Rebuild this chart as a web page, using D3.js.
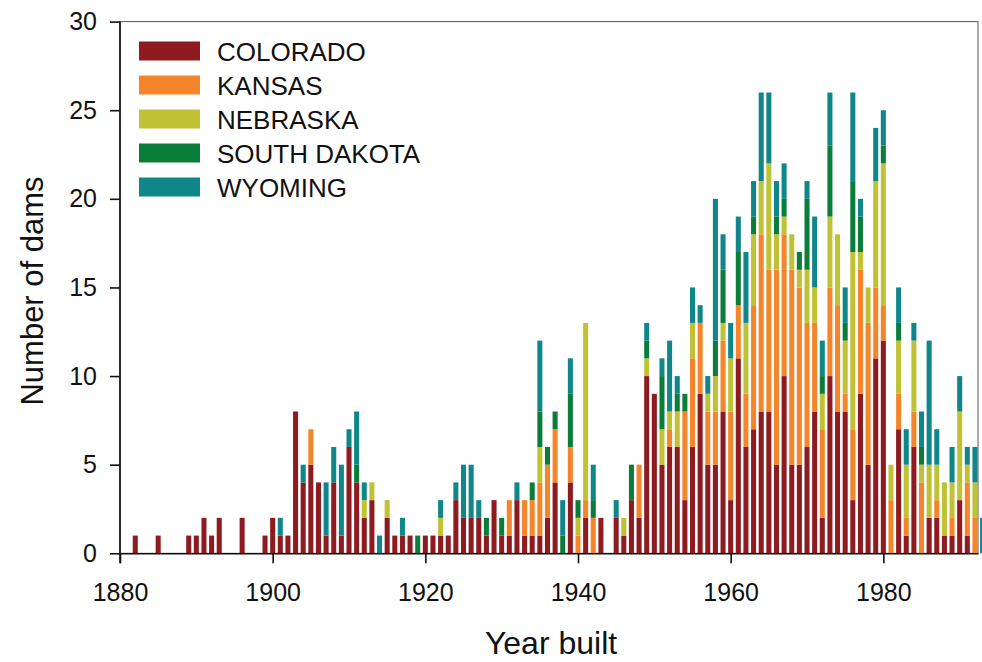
<!DOCTYPE html>
<html>
<head>
<meta charset="utf-8">
<script src="https://cdn.jsdelivr.net/npm/d3@7"></script>
<style>
  body { margin: 0; background: #fff; }
  text { font-family: "Liberation Sans", Arial, sans-serif; }
</style>
</head>
<body>
<script>
var width = 982,
    height = 662;

// dams built per year, 1880 - 1993
var years = d3.range(1880, 1994);

var colorado = [
    0,0,1,0,0,1,0,0,0,1,
    1,2,1,2,0,0,2,0,0,1,
    2,1,1,8,4,5,4,1,4,1,
    6,4,2,3,0,2,1,1,1,0,
    1,1,1,1,3,2,2,2,1,3,
    1,1,3,1,1,1,2,4,0,4,
    0,2,0,2,0,2,1,3,2,10,
    9,5,6,6,3,6,9,5,5,8,
    3,11,6,7,8,8,5,10,5,5,
    6,8,2,10,8,8,3,9,5,11,
    12,0,7,1,6,0,2,2,1,1,
    3,1,0,0];

var kansas = [
    0,0,0,0,0,0,0,0,0,0,
    0,0,0,0,0,0,0,0,0,0,
    0,0,0,0,0,2,0,0,0,0,
    0,0,0,0,0,0,0,0,0,0,
    0,0,0,0,0,0,0,0,0,0,
    0,2,0,2,2,3,3,3,0,2,
    1,1,2,0,0,0,0,0,3,0,
    0,0,1,0,5,5,4,3,3,4,
    5,3,3,7,10,8,11,8,11,10,
    7,5,5,5,6,1,4,7,8,4,
    2,3,2,1,2,4,0,1,0,1,
    0,3,2,0];

var nebraska = [
    0,0,0,0,0,0,0,0,0,0,
    0,0,0,0,0,0,0,0,0,0,
    0,0,0,0,0,0,0,0,0,0,
    0,0,1,1,0,1,0,0,0,0,
    0,0,1,0,0,0,0,0,0,0,
    0,0,0,0,0,2,0,0,0,0,
    1,10,0,0,0,0,1,0,0,1,
    0,2,1,2,0,2,0,1,2,1,
    3,0,4,4,3,6,2,1,2,1,
    3,2,2,4,4,3,10,1,2,6,
    8,2,3,3,4,1,3,2,3,2,
    5,1,2,0];

var southDakota = [
    0,0,0,0,0,0,0,0,0,0,
    0,0,0,0,0,0,0,0,0,0,
    0,0,0,0,0,0,0,0,0,0,
    0,1,0,0,0,0,0,0,0,1,
    0,0,0,0,0,0,0,0,1,0,
    1,0,0,0,1,2,1,1,1,3,
    1,0,1,0,0,0,0,2,0,1,
    0,3,0,1,1,0,0,0,2,3,
    0,3,0,1,0,0,1,1,0,1,
    4,0,1,4,0,1,4,2,0,0,
    1,0,1,0,0,1,0,0,0,0,
    0,0,0,0];

var wyoming = [
    0,0,0,0,0,0,0,0,0,0,
    0,0,0,0,0,0,0,0,0,0,
    0,1,0,0,1,0,0,3,2,4,
    1,3,1,0,1,0,0,1,0,0,
    0,0,1,0,1,3,3,1,0,0,
    0,0,1,0,0,4,0,0,2,2,
    0,0,2,0,0,1,0,0,0,1,
    0,1,4,1,0,2,1,1,8,2,
    2,2,4,2,5,4,2,2,0,0,
    1,4,2,3,0,2,5,1,0,3,
    2,0,2,2,1,2,7,2,0,2,
    2,1,2,2];

var states = ['COLORADO', 'KANSAS', 'NEBRASKA', 'SOUTH DAKOTA', 'WYOMING'];
var series = [colorado, kansas, nebraska, southDakota, wyoming];
var colors = ['#8e1b1f', '#f5852a', '#c0c235', '#0b7d3a', '#0f878a'];

var xTicks = [1880, 1900, 1920, 1940, 1960, 1980];
var yTicks = [0, 5, 10, 15, 20, 25, 30];

var svg = d3.select('body').append('svg')
    .attr('width', width)
    .attr('height', height);

var x = d3.scaleLinear().domain([1880, 1992.4]).range([120, 978]);
var y = d3.scaleLinear().domain([0, 30]).range([553.3, 21.6]);
var barW = (x(1881) - x(1880)) * 0.66;

// table for d3.stack
var table = years.map(function (yr, i) {
    var row = {year: yr};
    states.forEach(function (s, k) { row[s] = series[k][i]; });
    return row;
});

var stacked = d3.stack().keys(states)(table);

// frame
svg.append('rect')
    .attr('x', x(1880))
    .attr('y', y(30))
    .attr('width', x(1992.4) - x(1880))
    .attr('height', y(0) - y(30))
    .attr('fill', 'none')
    .attr('stroke', '#555')
    .attr('stroke-width', 1);

var layers = svg.append('g').selectAll('g')
    .data(stacked)
    .enter().append('g')
    .attr('fill', function (d, i) { return colors[i]; });

layers.selectAll('rect')
    .data(function (d) { return d.filter(function (p) { return p[1] > p[0]; }); })
    .enter().append('rect')
    .attr('x', function (p) { return x(p.data.year) - barW / 2; })
    .attr('y', function (p) { return y(p[1]); })
    .attr('width', barW)
    .attr('height', function (p) { return y(p[0]) - y(p[1]); });

// axes
var xAxis = svg.append('g')
    .attr('transform', 'translate(0,' + y(0) + ')')
    .call(d3.axisBottom(x).tickValues(xTicks).tickFormat(d3.format('d'))
        .tickSize(10).tickPadding(20).tickSizeOuter(0));

var yAxis = svg.append('g')
    .attr('transform', 'translate(' + x(1880) + ',0)')
    .call(d3.axisLeft(y).tickValues(yTicks).tickSize(10).tickPadding(13).tickSizeOuter(0));

[xAxis, yAxis].forEach(function (ax) {
    ax.select('.domain').attr('stroke', '#111').attr('stroke-width', 1.6);
    ax.selectAll('.tick line').attr('stroke', '#111').attr('stroke-width', 1.6);
    ax.selectAll('.tick text')
        .attr('fill', '#111')
        .style('font-family', '"Liberation Sans", Arial, sans-serif')
        .style('font-size', '25px');
});

// y axis line reaches down to tick end
yAxis.select('.domain').attr('d', 'M0,' + y(30) + 'V' + (y(0) + 10));

// titles
svg.append('text')
    .attr('x', 551)
    .attr('y', 654)
    .attr('text-anchor', 'middle')
    .attr('fill', '#111')
    .style('font-size', '32px')
    .text('Year built');

svg.append('text')
    .attr('transform', 'translate(43,291) rotate(-90)')
    .attr('text-anchor', 'middle')
    .attr('fill', '#111')
    .style('font-size', '31px')
    .text('Number of dams');

// legend
var legend = svg.append('g').attr('transform', 'translate(139,41.5)');
states.forEach(function (s, i) {
    legend.append('rect')
        .attr('x', 0)
        .attr('y', i * 34)
        .attr('width', 61)
        .attr('height', 19)
        .attr('fill', colors[i]);
    legend.append('text')
        .attr('x', 78)
        .attr('y', i * 34 + 19)
        .attr('fill', '#111')
        .style('font-size', '26px')
        .text(s);
});
</script>
</body>
</html>
